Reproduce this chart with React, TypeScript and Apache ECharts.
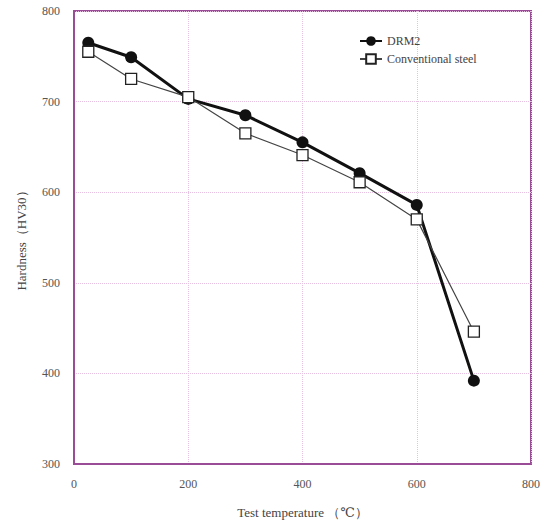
import React, { useEffect, useRef } from "react";
import * as echarts from "echarts";

const temps = [25, 100, 200, 300, 400, 500, 600, 700];
const drm2 = [765, 749, 703, 685, 655, 621, 586, 392];
const conventional = [755, 725, 705, 665, 641, 611, 570, 446];
const seriesNames = ["DRM2", "Conventional steel"];

export default function App() {
  const ref = useRef<HTMLDivElement>(null);
  useEffect(() => {
    if (!ref.current) return;
    const chart = echarts.init(ref.current, null, { renderer: "svg" });
    const font = "'Liberation Serif', 'DejaVu Serif', serif";
    const purple = "#9a4c97";
    chart.setOption({
      animation: false,
      backgroundColor: "#ffffff",
      textStyle: { fontFamily: font },
      grid: {
        left: 74,
        top: 11,
        right: 23,
        bottom: 62,
        show: true,
        borderColor: purple,
        borderWidth: 2,
        backgroundColor: "transparent",
      },
      legend: {
        orient: "vertical",
        left: 354,
        top: 30,
        itemWidth: 22,
        itemHeight: 12,
        itemGap: 6,
        textStyle: { fontFamily: font, fontSize: 12, color: "#444" },
        data: seriesNames,
      },
      xAxis: {
        type: "value",
        min: 0,
        max: 800,
        interval: 200,
        name: "Test temperature （℃）",
        nameLocation: "middle",
        nameGap: 42,
        nameTextStyle: { fontFamily: font, fontSize: 13, color: "#444" },
        axisLine: { show: true, lineStyle: { color: purple, width: 2 } },
        axisTick: { show: false },
        axisLabel: { color: "#555", fontSize: 12, fontFamily: font, margin: 14 },
        splitLine: { show: true, lineStyle: { color: "#e8c0e4", type: "dotted", width: 1 } },
      },
      yAxis: {
        type: "value",
        min: 300,
        max: 800,
        interval: 100,
        name: "Hardness（HV30）",
        nameLocation: "middle",
        nameGap: 46,
        nameTextStyle: { fontFamily: font, fontSize: 13, color: "#444" },
        axisLine: { show: true, lineStyle: { color: purple, width: 2 } },
        axisTick: { show: false },
        axisLabel: { color: "#555", fontSize: 12, fontFamily: font, margin: 14 },
        splitLine: { show: true, lineStyle: { color: "#e8c0e4", type: "dotted", width: 1 } },
      },
      series: [
        {
          name: seriesNames[0],
          type: "line",
          data: temps.map((t, i) => [t, drm2[i]]),
          symbol: "circle",
          symbolSize: 12,
          itemStyle: { color: "#111" },
          lineStyle: { color: "#111", width: 3 },
          z: 3,
        },
        {
          name: seriesNames[1],
          type: "line",
          data: temps.map((t, i) => [t, conventional[i]]),
          symbol: "rect",
          symbolSize: 11,
          itemStyle: { color: "#ffffff", borderColor: "#222", borderWidth: 1.3 },
          lineStyle: { color: "#444", width: 1.2 },
          z: 4,
        },
      ],
    });
    return () => chart.dispose();
  }, []);
  return (
    <div
      ref={ref}
      style={{ position: "fixed", left: 0, top: 0, width: 554, height: 526 }}
    />
  );
}
